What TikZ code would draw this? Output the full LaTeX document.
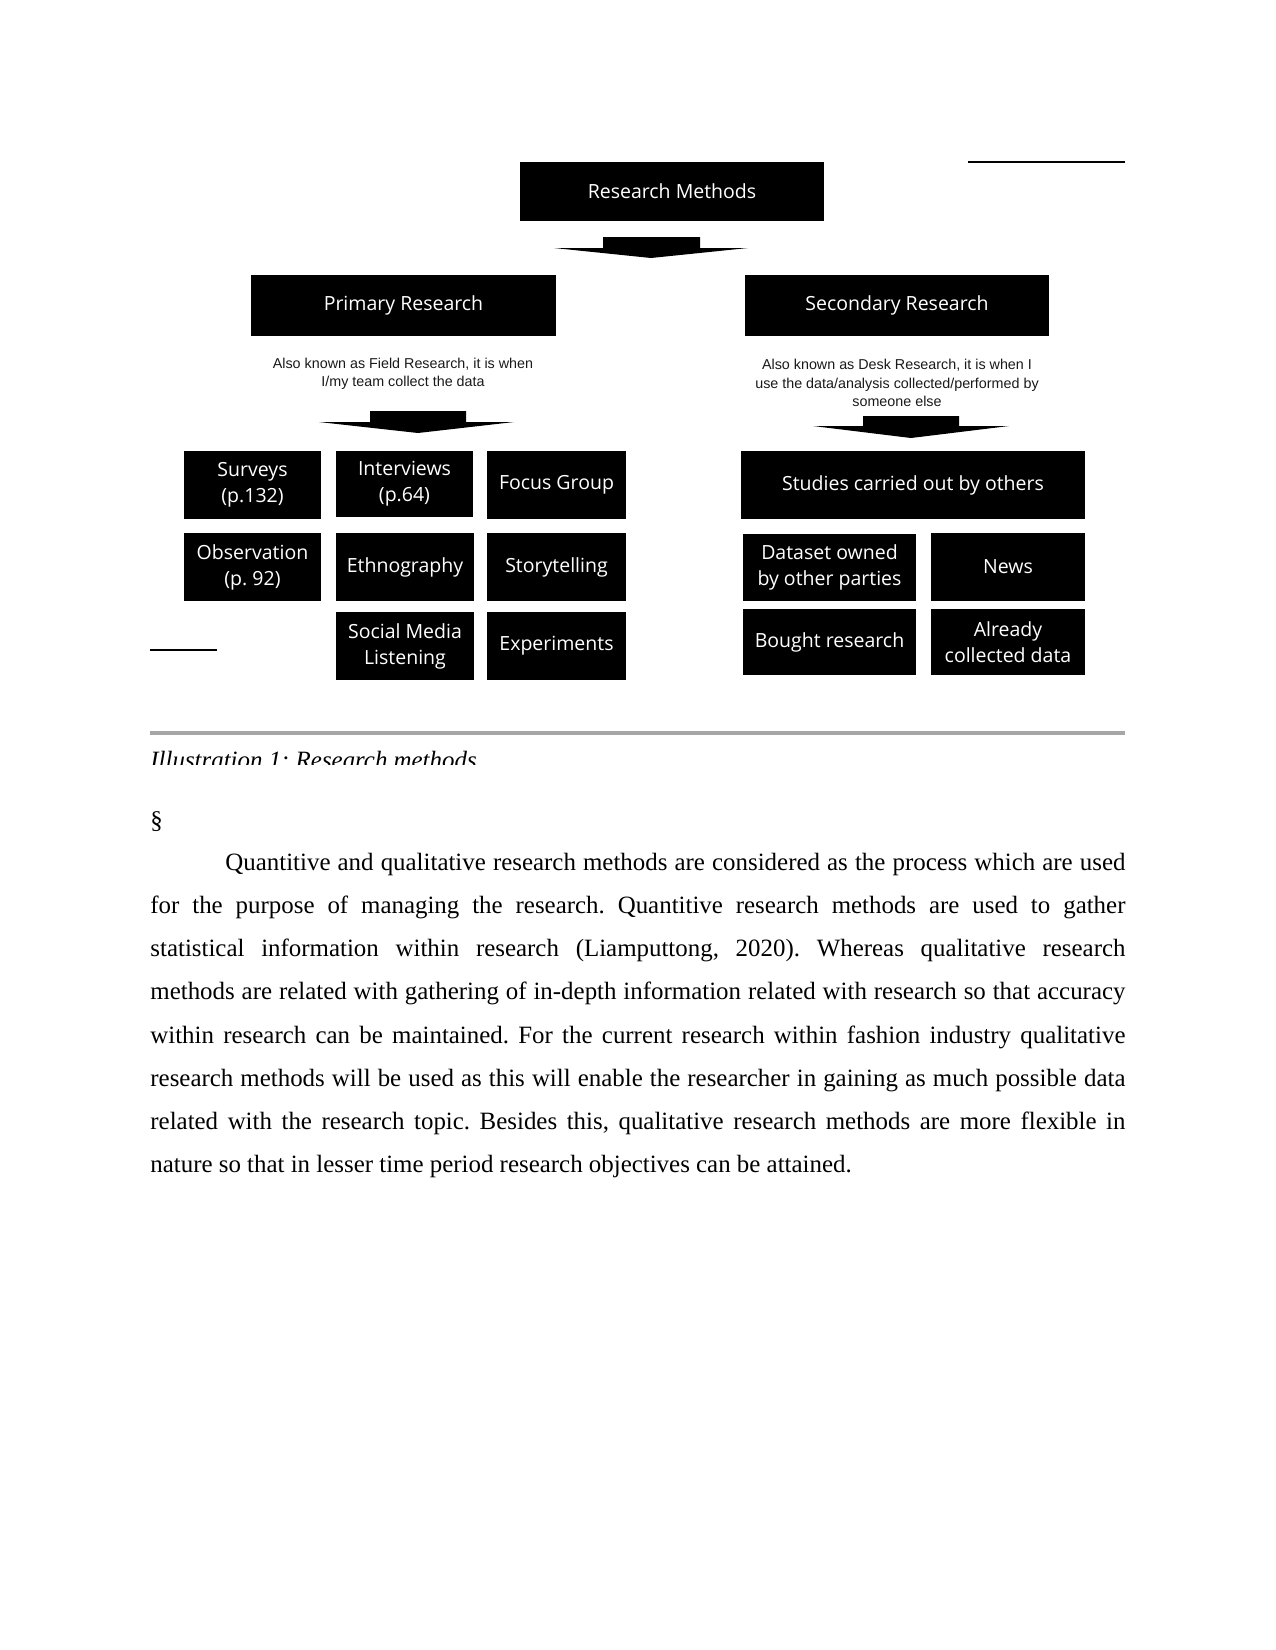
\documentclass[tikz,border=0pt]{standalone}
\usepackage{fontspec}
\setmainfont{Liberation Serif}
\newfontfamily\boxfont{Open Sans}
\newfontfamily\notefont{Liberation Sans}
\tikzset{
  blackbox/.style={fill=black, text=white, inner sep=0pt, align=center,
    font=\boxfont\fontsize{9.4}{12.6}\selectfont},
  note/.style={text=black!90, inner sep=0pt, align=center,
    font=\notefont\fontsize{6.9}{8.9}\selectfont},
  blockarrow/.style={fill=black},
}
% one black box from its two corners
\newcommand{\rmbox}[6]{\node[blackbox, minimum width={(#4-#2)*0.16933mm},
  minimum height={(#5-#3)*0.16933mm}] (#1) at ({(#2+#4)/2},{(#3+#5)/2}) {#6};}

\begin{document}
\frenchspacing
\begin{tikzpicture}[x=0.16933mm, y=-0.16933mm]
  \useasboundingbox (0,0) rectangle (1275,1650);
  % top of the tree
  \rmbox{methods}{520}{162}{824}{221}{Research Methods}
  \draw[line width=0.6pt] (968,162) -- (1125,162);
  \fill[blockarrow] (603,237) -- (700,237) -- (700,248) -- (748,248) -- (651,258) -- (554,248) -- (603,248) -- cycle;
  \rmbox{primary}{251}{275}{556}{336}{Primary Research}
  \rmbox{secondary}{745}{275}{1049}{336}{Secondary Research}
  \node[note] (primnote) at (403,374) {Also known as Field Research, it is when\\I/my team collect the data};
  \node[note] (secnote) at (897,383) {Also known as Desk Research, it is when I\\use the data/analysis collected/performed by\\someone else};
  \fill[blockarrow] (370,411) -- (466,411) -- (466,422) -- (514,422) -- (418,433) -- (319,422) -- (370,422) -- cycle;
  \fill[blockarrow] (863,416) -- (959,416) -- (959,426) -- (1009,426) -- (911,438) -- (813,426) -- (863,426) -- cycle;
  % primary methods
  \rmbox{surveys}{184}{451}{321}{519}{Surveys\\(p.132)}
  \rmbox{interviews}{336}{451}{473}{517}{Interviews\\(p.64)}
  \rmbox{focus}{487}{451}{626}{519}{Focus Group}
  \rmbox{observation}{184}{533}{321}{601}{Observation\\(p. 92)}
  \rmbox{ethno}{336}{533}{474}{601}{Ethnography}
  \rmbox{story}{487}{533}{626}{601}{Storytelling}
  \rmbox{social}{336}{612}{474}{680}{Social Media\\Listening}
  \rmbox{experiments}{487}{612}{626}{680}{Experiments}
  \draw[line width=1.3pt] (150,650) -- (217,650);
  % secondary methods
  \rmbox{studies}{741}{451}{1085}{519}{Studies carried out by others}
  \rmbox{dataset}{743}{534}{916}{601}{Dataset owned\\by other parties}
  \rmbox{news}{931}{533}{1085}{601}{News}
  \rmbox{bought}{743}{609}{916}{675}{Bought research}
  \rmbox{already}{931}{609}{1085}{675}{Already\\collected data}
  % rule and cut caption
  \draw[line width=1.5pt, color=black!35] (150,733) -- (1125,733);
  \begin{scope}
    \clip (140,740) rectangle (1130,764);
    \node[anchor=base west, inner sep=0pt, font=\itshape\fontsize{12}{14}\selectfont] (caption) at (150,768) {Illustration 1: Research methods};
  \end{scope}
  \node[anchor=base west, inner sep=0pt, font=\fontsize{12}{14}\selectfont] (sect) at (150,828) {\S};
  \node[anchor=base west, inner sep=0pt, text width=6.5in, align=justify, font=\fontsize{12}{20.85}\selectfont] (body) at (150,870) {\hspace*{0.5in}Quantitive and qualitative research methods are considered as the process which are used\linebreak
  for the purpose of managing the research. Quantitive research methods are used to gather\linebreak
  statistical information within research (Liamputtong, 2020). Whereas qualitative research\linebreak
  methods are related with gathering of in-depth information related with research so that accuracy\linebreak
  within research can be maintained. For the current research within fashion industry qualitative\linebreak
  research methods will be used as this will enable the researcher in gaining as much possible data\linebreak
  related with the research topic. Besides this, qualitative research methods are more flexible in\linebreak
  nature so that in lesser time period research objectives can be attained.};
\end{tikzpicture}
\end{document}
